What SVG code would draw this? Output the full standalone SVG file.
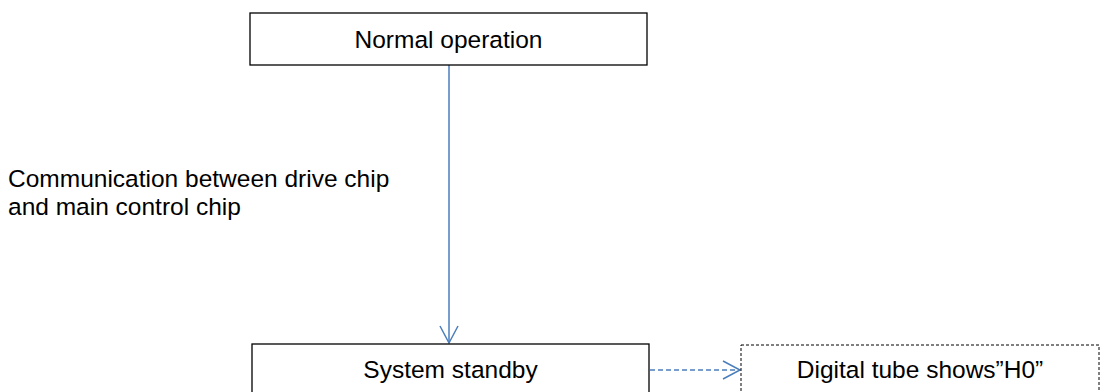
<svg xmlns="http://www.w3.org/2000/svg" width="1101" height="392" viewBox="0 0 1101 392">
<style>
.box{fill:#fff;stroke:#000;stroke-width:1.3}
.dbox{fill:#fff;stroke:#000;stroke-width:1;stroke-dasharray:3 2}
.t{font-family:"Liberation Sans",Arial,sans-serif;font-size:24.5px;fill:#000}
.c{stroke:#4A7EBB;stroke-width:1.5;fill:none}
</style>
<defs>
<marker id="arr" markerWidth="24" markerHeight="24" refX="18" refY="10" orient="auto" markerUnits="userSpaceOnUse">
<path d="M1,1 L18,10 L1,19" fill="none" stroke="#4A7EBB" stroke-width="1.5"/>
</marker>
</defs>
<g id="connectors">
<line class="c" x1="449" y1="65" x2="449" y2="343" marker-end="url(#arr)"/>
<line class="c" x1="650" y1="370" x2="740" y2="370" stroke-dasharray="5 3" marker-end="url(#arr)"/>
</g>
<g id="label">
<text class="t" x="8" y="187">Communication between drive chip</text>
<text class="t" x="8" y="215">and main control chip</text>
</g>
<g id="normal">
<rect class="box" x="250" y="13" width="397" height="52"/>
<text class="t" x="448.5" y="48" text-anchor="middle">Normal operation</text>
</g>
<g id="standby">
<rect class="box" x="252" y="344" width="397" height="60"/>
<text class="t" x="450.5" y="378" text-anchor="middle">System standby</text>
</g>
<g id="digital">
<rect class="dbox" x="741" y="345" width="358" height="60"/>
<text class="t" x="920" y="378" text-anchor="middle">Digital tube shows”H0”</text>
</g>
</svg>
